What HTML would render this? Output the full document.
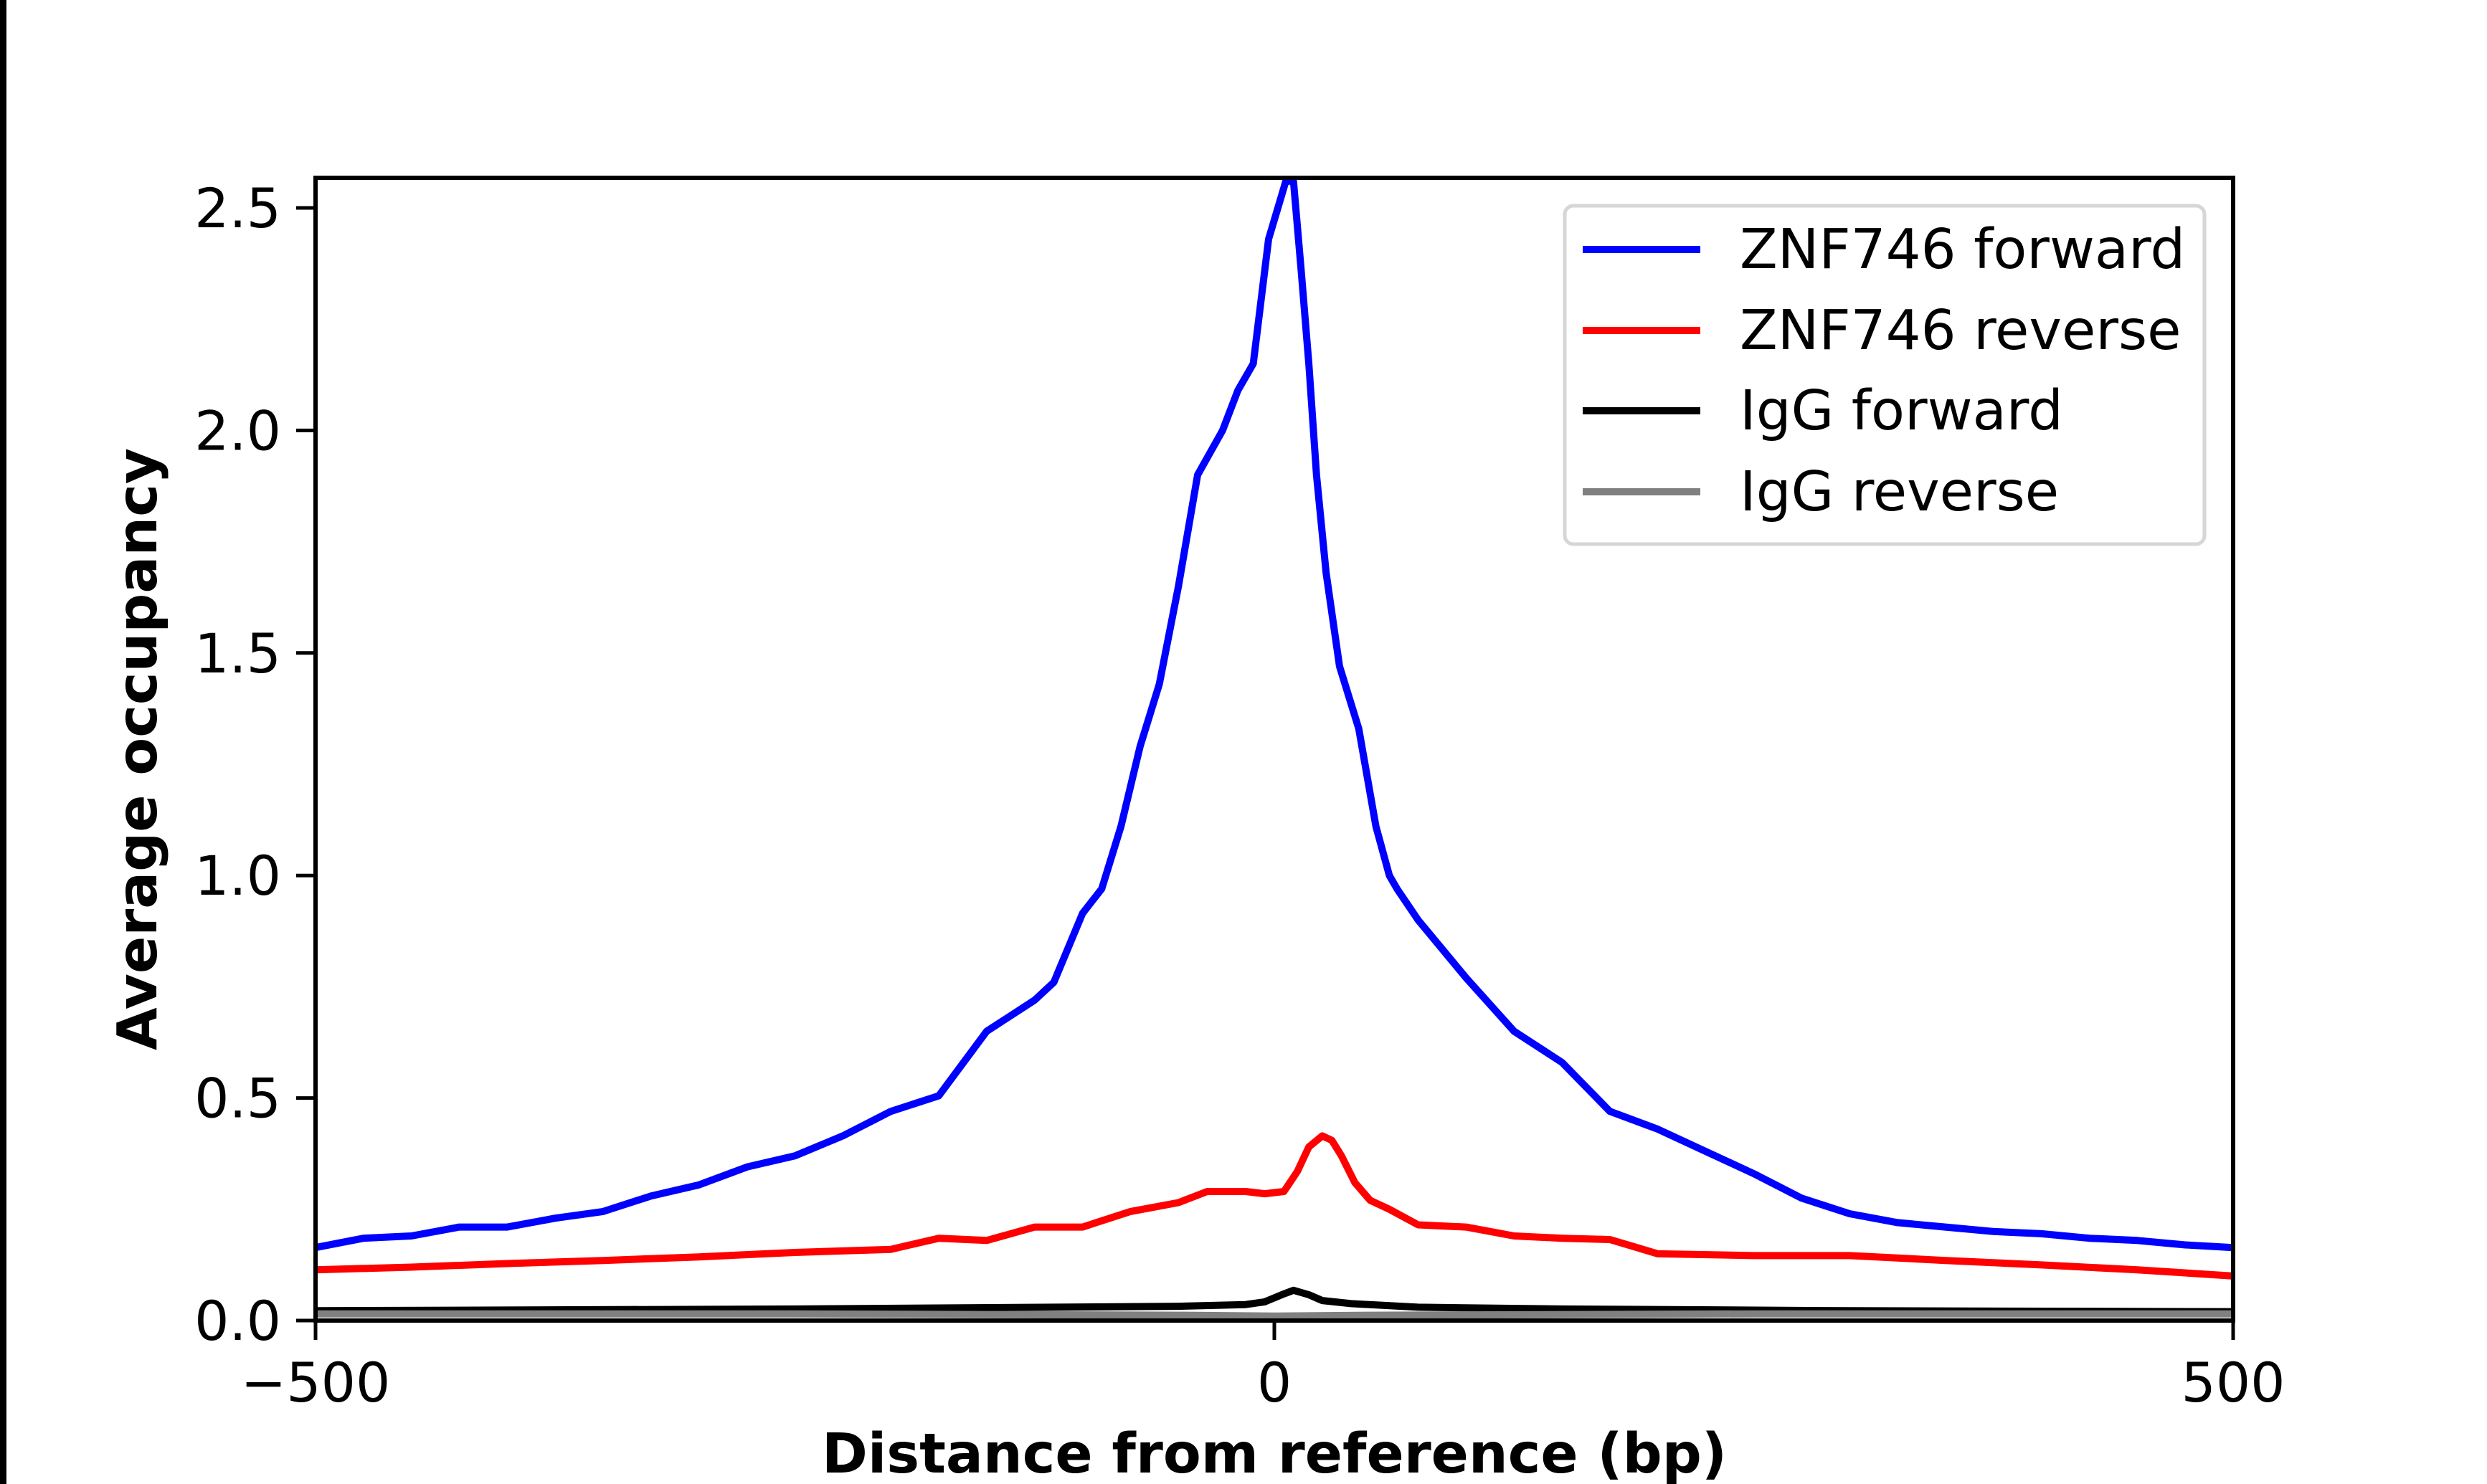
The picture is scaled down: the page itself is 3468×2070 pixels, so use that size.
<!DOCTYPE html>
<html><head><meta charset="utf-8"><style>
html,body{margin:0;padding:0;background:#fff;}
svg{display:block;}
text{font-family:"DejaVu Sans","Liberation Sans",sans-serif;}
</style></head><body>
<svg id="chart" width="3468" height="2070" viewBox="0 0 3468 2070" xmlns="http://www.w3.org/2000/svg">
<rect x="0" y="0" width="3468" height="2070" fill="#fff"/>
<rect x="0" y="0" width="9" height="2070" fill="#000"/>
<g id="series"></g>
<rect x="440" y="248" width="2674" height="1594" fill="none" stroke="#000" stroke-width="6"/>
<g id="ticks"></g>
<text x="1777" y="2054" text-anchor="middle" font-size="77" font-weight="bold">Distance from reference (bp)</text>
<text x="0" y="0" transform="translate(218,1045) rotate(-90)" text-anchor="middle" font-size="77" font-weight="bold">Average occupancy</text>
<g>
<rect x="2182" y="287" width="892" height="472" rx="12" fill="#fff" fill-opacity="0.8" stroke="#d6d6d6" stroke-width="5"/>
<line x1="2207" y1="348" x2="2371" y2="348" stroke="#0000ff" stroke-width="10"/>
<text x="2426" y="374" font-size="77">ZNF746 forward</text>
<line x1="2207" y1="461" x2="2371" y2="461" stroke="#ff0000" stroke-width="10"/>
<text x="2426" y="487" font-size="77">ZNF746 reverse</text>
<line x1="2207" y1="573" x2="2371" y2="573" stroke="#000000" stroke-width="10"/>
<text x="2426" y="599" font-size="77">IgG forward</text>
<line x1="2207" y1="686" x2="2371" y2="686" stroke="#808080" stroke-width="10"/>
<text x="2426" y="712" font-size="77">IgG reverse</text>
</g>
</svg>
<script>
const blueX = [-500,-475,-450,-425,-400,-375,-350,-325,-300,-275,-250,-225,-200,-175,-150,-125,-115,-100,-90,-80,-70,-60,-50,-40,-27,-19,-11,-3,6,10,14,18,22,27,34,44,53,60,64,75,100,125,150,175,200,225,250,275,300,325,350,375,400,425,450,475,500];
const blueY = [0.164,0.185,0.19,0.21,0.21,0.23,0.245,0.28,0.305,0.345,0.37,0.415,0.47,0.505,0.65,0.72,0.76,0.915,0.97,1.11,1.29,1.43,1.65,1.9,2.0,2.09,2.15,2.43,2.56,2.56,2.36,2.15,1.9,1.68,1.47,1.33,1.11,1.0,0.97,0.9,0.77,0.65,0.58,0.47,0.43,0.38,0.33,0.275,0.24,0.22,0.21,0.2,0.195,0.185,0.18,0.17,0.164];
const redX = [-500,-450,-400,-350,-300,-250,-200,-175,-150,-125,-100,-75,-50,-35,-15,-5,5,12,18,25,30,35,42,50,60,75,100,125,150,175,200,250,300,350,400,450,500];
const redY = [0.114,0.12,0.128,0.135,0.143,0.153,0.16,0.185,0.18,0.21,0.21,0.245,0.265,0.29,0.29,0.285,0.29,0.335,0.39,0.415,0.405,0.37,0.31,0.27,0.25,0.215,0.21,0.19,0.185,0.182,0.15,0.146,0.146,0.135,0.125,0.114,0.1];
const blackX = [-500,-250,-50,-15,-5,5,10,18,25,40,75,150,300,500];
const blackY = [0.022,0.026,0.032,0.036,0.042,0.06,0.068,0.058,0.045,0.038,0.03,0.026,0.022,0.02];
const grayX = [-500,-250,-50,0,50,250,500];
const grayY = [0.015,0.015,0.012,0.01,0.012,0.015,0.015];
const xTicks = [-500,0,500];
const xTickLabels = ["\u2212500","0","500"];
const yTicks = [0,0.5,1.0,1.5,2.0,2.5];
const yTickLabels = ["0.0","0.5","1.0","1.5","2.0","2.5"];

const NS = "http://www.w3.org/2000/svg";
function sx(v){ return 440 + (v + 500) / 1000 * 2674; }
function sy(v){ return 1842 - v * 620.8; }

const seriesLayer = document.getElementById('series');
function drawLine(xs, ys, color, name){
  const p = document.createElementNS(NS, 'polyline');
  p.setAttribute('points', xs.map((x,i)=>sx(x).toFixed(1)+','+sy(ys[i]).toFixed(1)).join(' '));
  p.setAttribute('fill','none');
  p.setAttribute('stroke',color);
  p.setAttribute('stroke-width','10');
  p.setAttribute('stroke-linejoin','round');
  
  
  seriesLayer.appendChild(p);
}
drawLine(blackX, blackY, '#000000', 'line-igg-forward');
drawLine(grayX, grayY, '#808080', 'line-igg-reverse');
drawLine(redX, redY, '#ff0000', 'line-znf746-reverse');
drawLine(blueX, blueY, '#0000ff', 'line-znf746-forward');

const tickLayer = document.getElementById('ticks');
xTicks.forEach((v,i)=>{
  const l = document.createElementNS(NS,'line');
  l.setAttribute('x1',sx(v)); l.setAttribute('x2',sx(v));
  l.setAttribute('y1',1842); l.setAttribute('y2',1869);
  l.setAttribute('stroke','#000'); l.setAttribute('stroke-width','5');
  
  
  tickLayer.appendChild(l);
  const t = document.createElementNS(NS,'text');
  t.setAttribute('x',sx(v)); t.setAttribute('y',1955);
  t.setAttribute('text-anchor','middle'); t.setAttribute('font-size','76');
  t.textContent = xTickLabels[i];
  
  
  tickLayer.appendChild(t);
});
yTicks.forEach((v,i)=>{
  const l = document.createElementNS(NS,'line');
  l.setAttribute('x1',413); l.setAttribute('x2',440);
  l.setAttribute('y1',sy(v)); l.setAttribute('y2',sy(v));
  l.setAttribute('stroke','#000'); l.setAttribute('stroke-width','5');
  
  
  tickLayer.appendChild(l);
  const t = document.createElementNS(NS,'text');
  t.setAttribute('x',392); t.setAttribute('y',sy(v)+27);
  t.setAttribute('text-anchor','end'); t.setAttribute('font-size','76');
  t.textContent = yTickLabels[i];
  
  
  tickLayer.appendChild(t);
});
</script>
</body></html>
